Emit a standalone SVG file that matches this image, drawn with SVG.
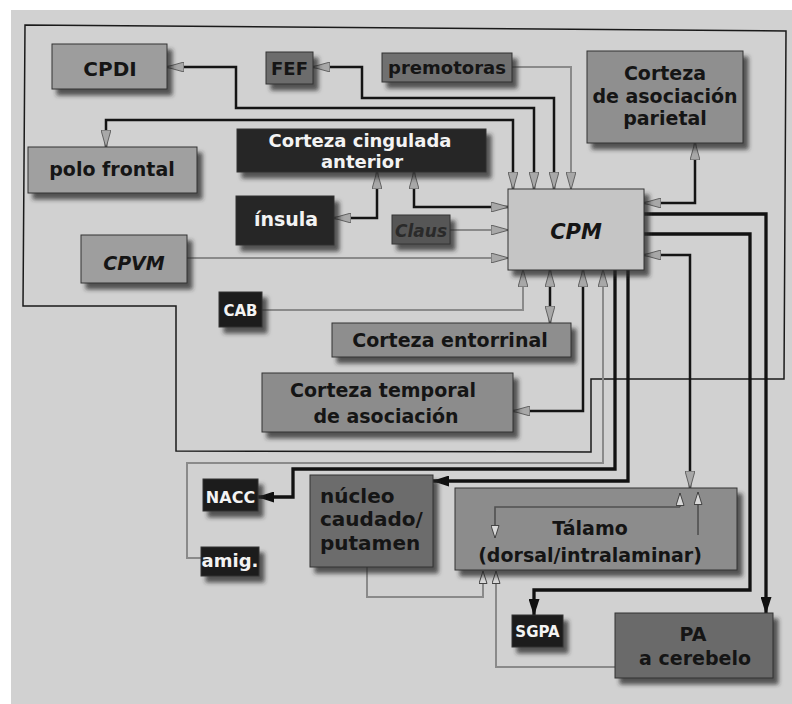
<svg xmlns="http://www.w3.org/2000/svg" width="792" height="704" viewBox="0 0 792 704">
<style>
text{font-family:"DejaVu Sans","Liberation Sans",sans-serif;font-weight:bold;text-anchor:middle;}
.node rect{stroke:#333;stroke-width:1;filter:url(#sh);}
.dk{fill:#151515;}
.lt{fill:#f3f3f3;}
.c-blk{fill:none;stroke:#141414;stroke-width:2.5;}
.c-thk{fill:none;stroke:#111;stroke-width:3.3;}
.c-gry{fill:none;stroke:#8a8a8a;stroke-width:2;}
.c-int{fill:none;stroke:#505050;stroke-width:1.6;}
</style>
<defs>
<filter id="sh" x="-20%" y="-20%" width="160%" height="170%">
<feDropShadow dx="5" dy="6" stdDeviation="2" flood-color="#2a2a2a" flood-opacity="0.75"/>
</filter>
<marker id="aG" viewBox="0 0 18 10" refX="17" refY="5" markerWidth="18" markerHeight="10" markerUnits="userSpaceOnUse" orient="auto-start-reverse">
<path d="M0,0 L18,5 L0,10 z" fill="#a8a8a8" stroke="#4a4a4a" stroke-width="0.8"/>
</marker>
<marker id="aK" viewBox="0 0 17 11" refX="16" refY="5.5" markerWidth="17" markerHeight="11" markerUnits="userSpaceOnUse" orient="auto-start-reverse">
<path d="M0,0 L17,5.5 L0,11 z" fill="#111"/>
</marker>
<marker id="aH" viewBox="0 0 14 9" refX="13" refY="4.5" markerWidth="14" markerHeight="9" markerUnits="userSpaceOnUse" orient="auto-start-reverse">
<path d="M0.5,0.5 L13,4.5 L0.5,8.5 z" fill="#d8d8d8" stroke="#444" stroke-width="1"/>
</marker>
</defs>

<rect x="0" y="0" width="792" height="704" fill="#ffffff"/>
<rect x="11" y="10" width="781" height="694" fill="#d1d1d1"/>

<!-- cortical region outline -->
<polygon points="25,25 786,31 784,379 591,379 591,452 176,451 176,306 23,306" fill="none" stroke="#1a1a1a" stroke-width="1.5"/>

<g id="connectors">
<path class="c-blk" d="M106,147 V120 H513 V189" marker-start="url(#aG)" marker-end="url(#aG)"/>
<path class="c-blk" d="M167,67 H236 V108 H534 V189" marker-start="url(#aG)" marker-end="url(#aG)"/>
<path class="c-blk" d="M313,67 H362 V98 H554 V189" marker-start="url(#aG)" marker-end="url(#aG)"/>
<path class="c-gry" d="M512,67 H571 V189" marker-end="url(#aG)"/>
<path class="c-blk" d="M334,218 H377 V172" marker-start="url(#aG)" marker-end="url(#aG)"/>
<path class="c-blk" d="M414,172 V207 H508" marker-start="url(#aG)" marker-end="url(#aG)"/>
<path class="c-gry" d="M450,230 H508" marker-end="url(#aG)"/>
<path class="c-gry" d="M187,258 H508" marker-end="url(#aG)"/>
<path class="c-blk" d="M695,143 V203 H644" marker-start="url(#aG)" marker-end="url(#aG)"/>
<path class="c-thk" d="M644,214 H766 V613" marker-end="url(#aK)"/>
<path class="c-thk" d="M644,234 H750 V590 H534 V615" marker-end="url(#aK)"/>
<path class="c-blk" d="M644,255 H690 V488" marker-start="url(#aG)" marker-end="url(#aG)"/>
<path class="c-gry" d="M262,310 H523 V270" marker-end="url(#aG)"/>
<path class="c-blk" d="M550,270 V323" marker-start="url(#aG)" marker-end="url(#aG)"/>
<path class="c-blk" d="M583,270 V411 H513" marker-start="url(#aG)" marker-end="url(#aG)"/>
<path class="c-gry" d="M201,558 H187 V463 H603 V270" marker-end="url(#aG)"/>
<path class="c-thk" d="M615,270 V469 H293 V497 H258" marker-end="url(#aK)"/>
<path class="c-thk" d="M628,270 V481 H433" marker-end="url(#aK)"/>
<path class="c-gry" d="M367,567 V597 H483 V571" marker-end="url(#aH)"/>
<path class="c-gry" d="M615,667 H496 V571" marker-end="url(#aH)"/>
</g>

<g id="CPDI" class="node"><rect x="52" y="44" width="115" height="45" fill="#9d9d9d"/><text x="110" y="76" font-size="20" class="dk">CPDI</text></g>
<g id="FEF" class="node"><rect x="266" y="52" width="47" height="32" fill="#6c6c6c"/><text x="289.5" y="75" font-size="18" class="dk">FEF</text></g>
<g id="premotoras" class="node"><rect x="382" y="53" width="130" height="29" fill="#6f6f6f"/><text x="447" y="74" font-size="18" class="dk">premotoras</text></g>
<g id="parietal" class="node"><rect x="587" y="51" width="156" height="92" fill="#8f8f8f"/><text x="665" y="80" font-size="19" class="dk">Corteza</text><text x="665" y="103" font-size="19" class="dk">de asociación</text><text x="665" y="125" font-size="19" class="dk">parietal</text></g>
<g id="polofrontal" class="node"><rect x="28" y="147" width="169" height="46" fill="#a0a0a0"/><text x="112" y="176" font-size="19" class="dk">polo frontal</text></g>
<g id="cingulada" class="node"><rect x="237" y="129" width="249" height="43" fill="#262626"/><text x="360" y="147" font-size="18" class="lt">Corteza cingulada</text><text x="362" y="168" font-size="18" class="lt">anterior</text></g>
<g id="insula" class="node"><rect x="236" y="196" width="98" height="49" fill="#262626"/><text x="286" y="226" font-size="19" class="lt">ínsula</text></g>
<g id="Claus" class="node"><rect x="392" y="215" width="58" height="29" fill="#575757"/><text x="421" y="237" font-size="17" font-style="italic" fill="#2a2a2a">Claus</text></g>
<g id="CPM" class="node"><rect x="508" y="189" width="136" height="81" fill="#c5c5c5"/><text x="576" y="239" font-size="21" font-style="italic" class="dk">CPM</text></g>
<g id="CPVM" class="node"><rect x="81" y="235" width="106" height="48" fill="#9e9e9e"/><text x="134" y="270" font-size="19" font-style="italic" class="dk">CPVM</text></g>
<g id="CAB" class="node"><rect x="219" y="292" width="43" height="35" fill="#1f1f1f"/><text x="240.5" y="316" font-size="15" class="lt">CAB</text></g>
<g id="entorrinal" class="node"><rect x="332" y="323" width="239" height="34" fill="#8e8e8e"/><text x="450" y="347" font-size="19" class="dk">Corteza entorrinal</text></g>
<g id="temporal" class="node"><rect x="262" y="373" width="251" height="59" fill="#8c8c8c"/><text x="383" y="397" font-size="19" class="dk">Corteza temporal</text><text x="386" y="423" font-size="19" class="dk">de asociación</text></g>
<g id="NACC" class="node"><rect x="203" y="479" width="55" height="32" fill="#1f1f1f"/><text x="230.5" y="503" font-size="16" class="lt">NACC</text></g>
<g id="amig" class="node"><rect x="201" y="547" width="58" height="29" fill="#1f1f1f"/><text x="230" y="567" font-size="18" class="lt">amig.</text></g>
<g id="nucleo" class="node"><rect x="310" y="475" width="123" height="92" fill="#6c6c6c"/><text x="320" y="503" font-size="20" class="dk" style="text-anchor:start">núcleo</text><text x="320" y="526" font-size="20" class="dk" style="text-anchor:start">caudado/</text><text x="320" y="550" font-size="20" class="dk" style="text-anchor:start">putamen</text></g>
<g id="talamo" class="node"><rect x="455" y="488" width="282" height="82" fill="#8c8c8c"/><text x="590" y="535" font-size="19" class="dk">Tálamo</text><text x="590" y="562" font-size="19" class="dk">(dorsal/intralaminar)</text>
<path class="c-int" d="M680,507 V493" marker-end="url(#aH)"/><path class="c-int" d="M680,507 H495 V538" marker-end="url(#aH)"/><path class="c-int" d="M698,535 V492" marker-end="url(#aH)"/></g>
<g id="SGPA" class="node"><rect x="512" y="615" width="51" height="32" fill="#1f1f1f"/><text x="537.5" y="637" font-size="15" class="lt">SGPA</text></g>
<g id="PA" class="node"><rect x="615" y="613" width="158" height="65" fill="#6a6a6a"/><text x="693" y="641" font-size="19" class="dk">PA</text><text x="695" y="665" font-size="19" class="dk">a cerebelo</text></g>
</svg>
